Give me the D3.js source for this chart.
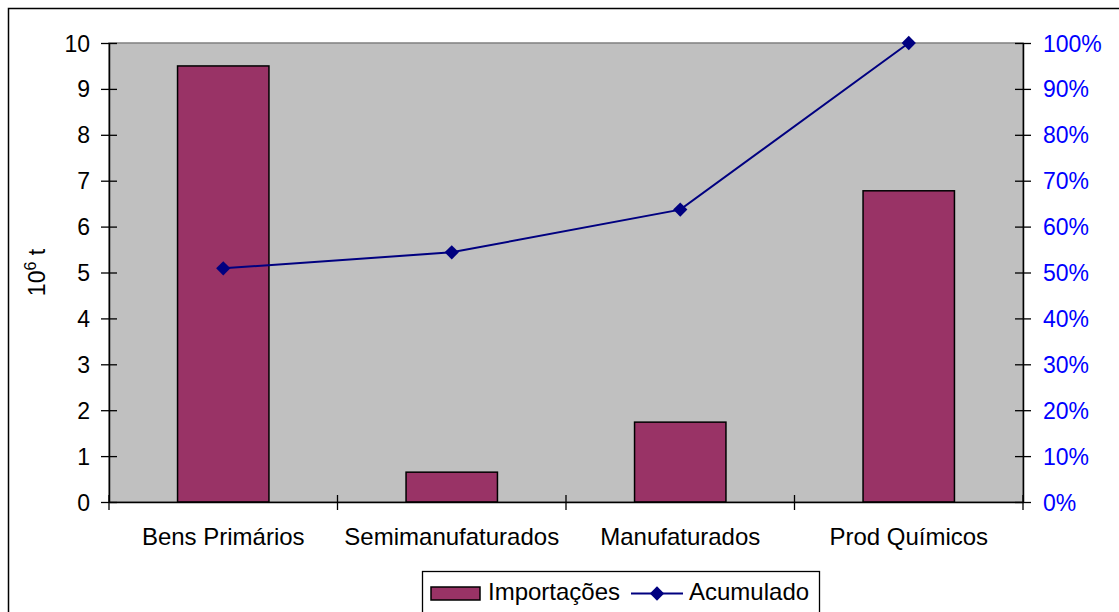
<!DOCTYPE html>
<html>
<head>
<meta charset="utf-8">
<script src="https://cdn.jsdelivr.net/npm/d3@7"></script>
<style>
  html, body { margin: 0; padding: 0; background: #fff; }
  svg { display: block; font-family: "Liberation Sans", Arial, sans-serif; }
</style>
</head>
<body>
<svg id="chart" width="1119" height="612"></svg>
<script>
const categories = ["Bens Primários", "Semimanufaturados", "Manufaturados", "Prod Químicos"];
const importacoes = [9.5, 0.65, 1.74, 6.78];
const acumulado = [0.509, 0.544, 0.637, 1.0];
const leftTicks = [0, 1, 2, 3, 4, 5, 6, 7, 8, 9, 10];
const rightTicks = [0, 0.1, 0.2, 0.3, 0.4, 0.5, 0.6, 0.7, 0.8, 0.9, 1.0];
const seriesNames = ["Importações", "Acumulado"];

const svg = d3.select("#chart");
const W = 1119, H = 612;
const plot = { left: 109, right: 1023, top: 43, bottom: 502 };
const FS = 23;
const FS2 = 24;

// outer chart border
svg.append("rect").attr("x", 8.5).attr("y", 8.5).attr("width", W + 20).attr("height", H + 20)
  .attr("fill", "#fff").attr("stroke", "#000").attr("stroke-width", 1.5);

const x = d3.scaleBand().domain(categories).range([plot.left, plot.right]).paddingInner(0).paddingOuter(0);
const y = d3.scaleLinear().domain([0, 10]).range([plot.bottom, plot.top]);
const y2 = d3.scaleLinear().domain([0, 1]).range([plot.bottom, plot.top]);

// plot area
svg.append("rect").attr("x", plot.left).attr("y", plot.top)
  .attr("width", plot.right - plot.left).attr("height", plot.bottom - plot.top)
  .attr("fill", "#c0c0c0").attr("stroke", "#808080").attr("stroke-width", 1.5);

// bars
const barW = x.bandwidth() / 2.5;
svg.append("g").selectAll("rect").data(importacoes).join("rect")
  .attr("x", (d, i) => x(categories[i]) + (x.bandwidth() - barW) / 2)
  .attr("y", d => y(d))
  .attr("width", barW)
  .attr("height", d => y(0) - y(d))
  .attr("fill", "#993366").attr("stroke", "#000").attr("stroke-width", 1.5);

// left axis
const gl = svg.append("g").attr("transform", `translate(${plot.left},0)`)
  .call(d3.axisLeft(y).tickValues(leftTicks).tickFormat(d3.format("d")).tickSizeInner(8).tickSizeOuter(0).tickPadding(11));
gl.select(".domain").attr("stroke", "#000").attr("stroke-width", 1.5);
gl.selectAll(".tick line").attr("x2", 8).attr("x1", -8).attr("stroke", "#000").attr("stroke-width", 1.3);
gl.selectAll(".tick text").attr("font-size", FS).attr("fill", "#000").attr("dy", "0.35em")
  .attr("font-family", "Liberation Sans, Arial, sans-serif");

// right axis
const gr = svg.append("g").attr("transform", `translate(${plot.right},0)`)
  .call(d3.axisRight(y2).tickValues(rightTicks).tickFormat(d3.format(".0%")).tickSizeInner(8).tickSizeOuter(0).tickPadding(12));
gr.select(".domain").attr("stroke", "#000").attr("stroke-width", 1.5);
gr.selectAll(".tick line").attr("x1", -8).attr("x2", 8).attr("stroke", "#000").attr("stroke-width", 1.3);
gr.selectAll(".tick text").attr("font-size", FS).attr("fill", "#0000ff").attr("dy", "0.35em")
  .attr("font-family", "Liberation Sans, Arial, sans-serif");

// bottom axis
const gb = svg.append("g").attr("transform", `translate(0,${plot.bottom})`)
  .call(d3.axisBottom(x).tickSize(0).tickPadding(26));
gb.select(".domain").attr("stroke", "#000").attr("stroke-width", 1.5);
gb.selectAll(".tick text").attr("font-size", FS2).attr("fill", "#000").attr("dy", "0.71em")
  .attr("font-family", "Liberation Sans, Arial, sans-serif");
// category separator ticks
const sepTicks = categories.map(c => x(c)).concat([x(categories[categories.length - 1]) + x.bandwidth()]);
svg.append("g").selectAll("line").data(sepTicks).join("line")
  .attr("x1", d => d).attr("x2", d => d)
  .attr("y1", plot.bottom - 7).attr("y2", plot.bottom + 8)
  .attr("stroke", "#000").attr("stroke-width", 1.3);

// line
const line = d3.line().x((d, i) => x(categories[i]) + x.bandwidth() / 2).y(d => y2(d));
svg.append("path").datum(acumulado).attr("d", line)
  .attr("fill", "none").attr("stroke", "#000080").attr("stroke-width", 2);
const diamond = d3.symbol().type(d3.symbolDiamond2).size(130);
svg.append("g").selectAll("path").data(acumulado).join("path")
  .attr("d", diamond)
  .attr("transform", (d, i) => `translate(${x(categories[i]) + x.bandwidth() / 2},${y2(d)})`)
  .attr("fill", "#000080");

// y title
const yt = svg.append("text")
  .attr("transform", `translate(45,${(plot.top + plot.bottom) / 2}) rotate(-90)`)
  .attr("text-anchor", "middle").attr("font-size", FS).attr("fill", "#000");
yt.append("tspan").text("10");
yt.append("tspan").attr("font-size", 16).attr("dy", -9).text("6");
yt.append("tspan").attr("dy", 9).text(" t");

// legend
const lg = svg.append("g");
lg.append("rect").attr("x", 422.5).attr("y", 571.5).attr("width", 397).attr("height", 60)
  .attr("fill", "#fff").attr("stroke", "#000").attr("stroke-width", 1.3);
lg.append("rect").attr("x", 431).attr("y", 587).attr("width", 49).attr("height", 13)
  .attr("fill", "#993366").attr("stroke", "#000").attr("stroke-width", 1.5);
lg.append("text").attr("x", 488).attr("y", 600).attr("font-size", FS2).attr("fill", "#000").text(seriesNames[0]);
lg.append("line").attr("x1", 631).attr("x2", 683).attr("y1", 593.5).attr("y2", 593.5)
  .attr("stroke", "#000080").attr("stroke-width", 2);
lg.append("path").attr("d", diamond).attr("transform", "translate(657,593.5)").attr("fill", "#000080");
lg.append("text").attr("x", 689).attr("y", 600).attr("font-size", FS2).attr("fill", "#000").text(seriesNames[1]);
</script>
</body>
</html>
